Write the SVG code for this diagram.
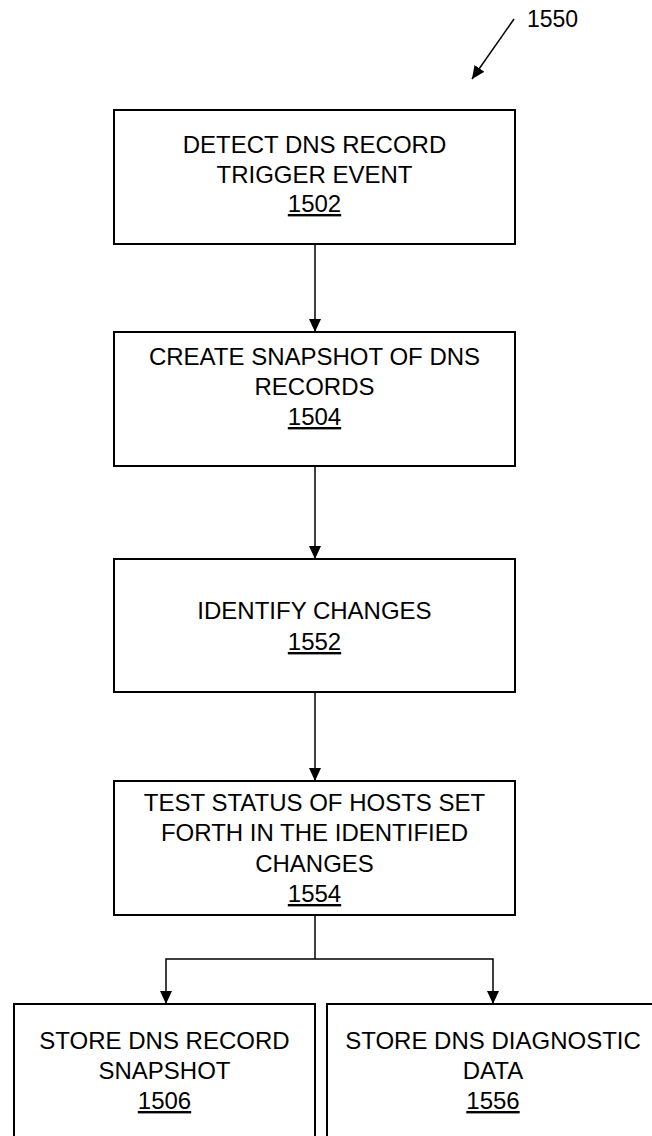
<svg xmlns="http://www.w3.org/2000/svg" width="652" height="1136" viewBox="0 0 652 1136">
  <style>
    .box { fill: #ffffff; stroke: #000000; stroke-width: 2; }
    .lbl { font-family: "Liberation Sans", Arial, sans-serif; font-size: 24px; fill: #000000; text-anchor: middle; }
    .num { text-decoration: underline; }
    .conn { fill: none; stroke: #000000; stroke-width: 1.5; }
    .ref { font-family: "Liberation Sans", Arial, sans-serif; font-size: 23px; fill: #000000; }
  </style>
  <defs>
    <marker id="arrow" viewBox="0 0 13 12" markerWidth="13" markerHeight="12" refX="13" refY="6" orient="auto" markerUnits="userSpaceOnUse">
      <path d="M0,0 L13,6 L0,12 z" fill="#000000"/>
    </marker>
  </defs>
  <rect width="652" height="1136" fill="#ffffff"/>

  <g id="ref-1550">
    <text class="ref" x="527" y="27">1550</text>
    <line class="conn" x1="514" y1="19" x2="472" y2="79" marker-end="url(#arrow)"/>
  </g>

  <g id="connectors">
    <line class="conn" x1="315" y1="244" x2="315" y2="332" marker-end="url(#arrow)"/>
    <line class="conn" x1="315" y1="466" x2="315" y2="559" marker-end="url(#arrow)"/>
    <line class="conn" x1="315" y1="692" x2="315" y2="781" marker-end="url(#arrow)"/>
    <polyline class="conn" points="315,915 315,959"/>
    <polyline class="conn" points="315,959 166,959 166,1004" marker-end="url(#arrow)"/>
    <polyline class="conn" points="315,959 493,959 493,1004" marker-end="url(#arrow)"/>
  </g>

  <g id="node-1502">
    <rect class="box" x="114" y="110" width="401" height="134"/>
    <text class="lbl" x="314.5" y="153">DETECT DNS RECORD</text>
    <text class="lbl" x="314.5" y="182.5">TRIGGER EVENT</text>
    <text class="lbl num" x="314.5" y="212">1502</text>
  </g>

  <g id="node-1504">
    <rect class="box" x="114" y="332" width="401" height="134"/>
    <text class="lbl" x="314.5" y="365">CREATE SNAPSHOT OF DNS</text>
    <text class="lbl" x="314.5" y="395">RECORDS</text>
    <text class="lbl num" x="314.5" y="425">1504</text>
  </g>

  <g id="node-1552">
    <rect class="box" x="114" y="559" width="401" height="133"/>
    <text class="lbl" x="314.5" y="619">IDENTIFY CHANGES</text>
    <text class="lbl num" x="314.5" y="650">1552</text>
  </g>

  <g id="node-1554">
    <rect class="box" x="114" y="781" width="401" height="134"/>
    <text class="lbl" x="314.5" y="811">TEST STATUS OF HOSTS SET</text>
    <text class="lbl" x="314.5" y="841">FORTH IN THE IDENTIFIED</text>
    <text class="lbl" x="314.5" y="872">CHANGES</text>
    <text class="lbl num" x="314.5" y="902">1554</text>
  </g>

  <g id="node-1506">
    <rect class="box" x="14" y="1004" width="301" height="140"/>
    <text class="lbl" x="164.5" y="1049">STORE DNS RECORD</text>
    <text class="lbl" x="164.5" y="1079">SNAPSHOT</text>
    <text class="lbl num" x="164.5" y="1109">1506</text>
  </g>

  <g id="node-1556">
    <rect class="box" x="327" y="1004" width="333" height="140"/>
    <text class="lbl" x="493" y="1049">STORE DNS DIAGNOSTIC</text>
    <text class="lbl" x="493" y="1079">DATA</text>
    <text class="lbl num" x="493" y="1109">1556</text>
  </g>
</svg>
